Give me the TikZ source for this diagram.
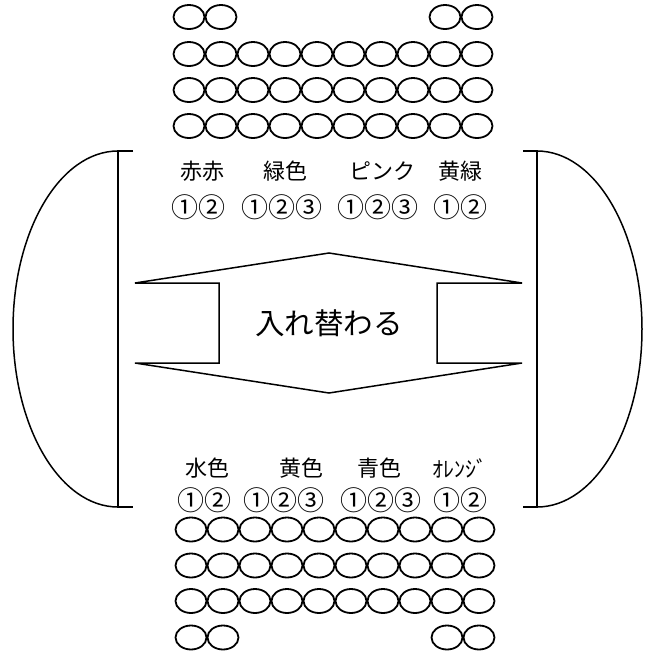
\documentclass[tikz,border=0pt]{standalone}
\usepackage{fontspec}
\setmainfont{Noto Sans CJK JP}
\usetikzlibrary{shapes.geometric}
\begin{document}
\begin{tikzpicture}[x=1pt,y=-1pt,
  bead/.style={draw, ellipse, line width=1.8pt, minimum width=31pt, minimum height=24pt, inner sep=0pt},
  lbl/.style={font=\fontsize{22}{24}\selectfont, inner sep=0pt},
  num/.style={font=\fontsize{27}{28}\selectfont, inner sep=0pt},
  bigl/.style={font=\fontsize{29.5}{31}\selectfont, inner sep=0pt},
  stroke/.style={line width=1.5pt, line join=miter}]
\useasboundingbox[fill=white] (0,0) rectangle (649,657);
% top beads
\foreach \c in {0,1,8,9} \node[bead] (ta\c) at ({189+32*\c},17) {};
\foreach \r/\y in {b/54,c/90,d/126} \foreach \c in {0,...,9} \node[bead] (t\r\c) at ({189+32*\c},\y) {};
% bottom beads
\foreach \r/\y in {a/529.5,b/565.5,c/601} \foreach \c in {0,...,9} \node[bead] (b\r\c) at ({191+32*\c},\y) {};
\foreach \c in {0,1,8,9} \node[bead] (bd\c) at ({191+32*\c},637.5) {};
% top labels
\node[lbl] (tl1) at (202,171) {赤赤};
\node[lbl] (tl2) at (285,171) {緑色};
\node[lbl] (tl3) at (382,171) {ピンク};
\node[lbl] (tl4) at (460,171) {黄緑};
\node[num] (tn1) at (198,207) {①②};
\node[num] (tn2) at (282,207) {①②③};
\node[num] (tn3) at (378,207) {①②③};
\node[num] (tn4) at (460,207) {①②};
% bottom labels
\node[lbl] (bl1) at (207,468) {水色};
\node[lbl] (bl2) at (301,468) {黄色};
\node[lbl] (bl3) at (379,468) {青色};
\node[lbl] (bl4) at (460,468) {ｵﾚﾝｼﾞ};
\node[num] (bn1) at (204,500) {①②};
\node[num] (bn2) at (284,500) {①②③};
\node[num] (bn3) at (381,500) {①②③};
\node[num] (bn4) at (460,500) {①②};
% double arrow
\draw[stroke] (135,283) -- (329,253) -- (522,283) -- (437,283) -- (437,363) -- (522,363)
  -- (329,393) -- (135,363) -- (219,363) -- (219,283) -- cycle;
\node[bigl] (swap) at (329,323) {入れ替わる};
% left bracket
\draw[stroke] (133,151) -- (118,151) -- (118,507) -- (133,507);
\draw[stroke] (118,151) .. controls (60,151) and (13,230.7) .. (13,329)
  .. controls (13,427.3) and (60,507) .. (118,507);
% right bracket
\draw[stroke] (523,151) -- (537,151) -- (537,507) -- (523,507);
\draw[stroke] (537,151) .. controls (595,151) and (642,230.7) .. (642,329)
  .. controls (642,427.3) and (595,507) .. (537,507);
\end{tikzpicture}
\end{document}
